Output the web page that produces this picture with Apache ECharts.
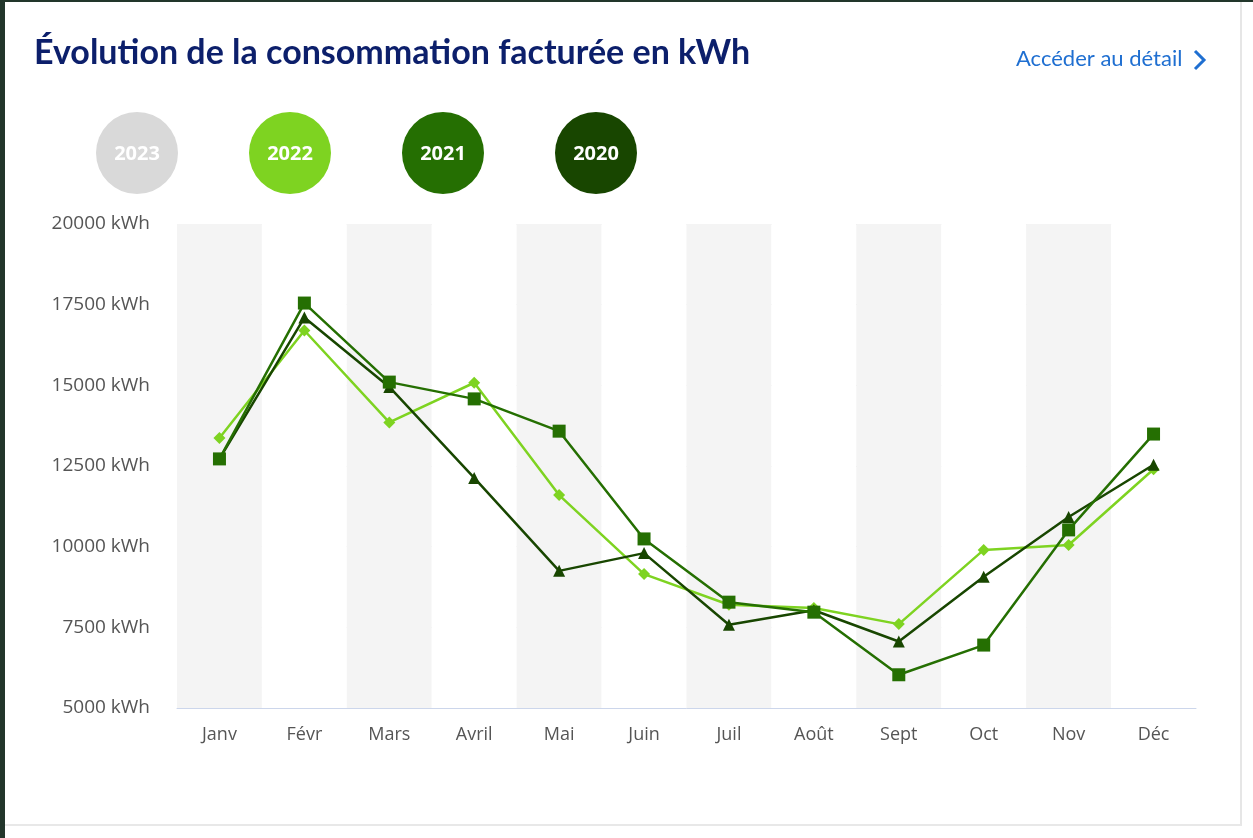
<!DOCTYPE html>
<html>
<head>
<meta charset="utf-8">
<script src="https://cdn.jsdelivr.net/npm/echarts@6/dist/echarts.min.js"></script>
<style>
  html, body { margin: 0; padding: 0; background: #fff; }
  #page { position: absolute; left: 0; top: 0; width: 1253px; height: 838px; background: #fff; }
  #strip { position: absolute; left: 0; top: 0; width: 5px; height: 838px; background: #22362b; }
  #topline { position: absolute; left: 0; top: 0; width: 1253px; height: 2px; background: #22362b; }
  #card { position: absolute; left: 5px; top: 2px; width: 1235px; height: 822px; background: #fff;
          border-right: 2px solid #e6e6e6; border-bottom: 2px solid #e8e8e8; }
  #chart { position: absolute; left: 0; top: 0; width: 1253px; height: 838px; }
</style>
</head>
<body>
<div id="page">
  <div id="card"></div>
  <div id="strip"></div>
  <div id="topline"></div>
  <div id="chart"></div>
</div>
<script>
const months = ['Janv', 'Févr', 'Mars', 'Avril', 'Mai', 'Juin', 'Juil', 'Août', 'Sept', 'Oct', 'Nov', 'Déc']
const years = ['2023', '2022', '2021', '2020']
const yearColors = ['#d9d9d9', '#7ed321', '#256f02', '#184600']

const conso2022 = [13370, 16700, 13850, 15080, 11600, 9150, 8200, 8100, 7600, 9900, 10050, 12400]
const conso2021 = [12720, 17550, 15100, 14580, 13580, 10240, 8280, 7970, 6030, 6950, 10520, 13490]
const conso2020 = [12720, 17100, 14950, 12130, 9250, 9800, 7580, 8030, 7060, 9070, 10920, 12540]

const chart = echarts.init(document.getElementById('chart'))

// pastilles des années
const legendItems = []
years.forEach((y, i) => {
  legendItems.push({
    type: 'circle',
    shape: { cx: 137 + i * 153, cy: 153, r: 41 },
    style: { fill: yearColors[i] }
  })
  legendItems.push({
    type: 'text',
    x: 137 + i * 153,
    y: 154,
    style: {
      text: y,
      fill: '#fff',
      font: 'bold 20px "Open Sans", sans-serif',
      textAlign: 'center',
      textVerticalAlign: 'middle'
    }
  })
})

const option = {
  animation: false,
  title: {
    text: 'Évolution de la consommation facturée en kWh',
    left: 29,
    top: 31,
    textStyle: {
      fontFamily: 'Lato',
      fontWeight: 'bold',
      fontSize: 34,
      color: '#0c1f6b'
    }
  },
  graphic: legendItems.concat([
    {
      type: 'text',
      x: 1016,
      y: 59,
      style: {
        text: 'Accéder au détail',
        fill: '#1f6fd1',
        font: '22px Lato',
        textVerticalAlign: 'middle'
      }
    },
    {
      type: 'polyline',
      shape: { points: [[1195, 51], [1204, 60], [1195, 69]] },
      style: { stroke: '#1f6fd1', lineWidth: 3, fill: null }
    }
  ]),
  grid: {
    left: 177,
    right: 57,
    top: 224,
    bottom: 130
  },
  xAxis: {
    type: 'category',
    data: months,
    boundaryGap: true,
    axisLine: { lineStyle: { color: '#ccd6eb', width: 1 } },
    axisTick: { show: false },
    axisLabel: {
      color: '#555',
      fontFamily: 'Open Sans',
      fontSize: 18,
      margin: 18
    },
    splitArea: {
      show: true,
      areaStyle: { color: ['#f4f4f4', '#ffffff'] }
    }
  },
  yAxis: {
    type: 'value',
    min: 5000,
    max: 20000,
    interval: 2500,
    axisLine: { show: false },
    axisTick: { show: false },
    axisLabel: {
      color: '#555',
      fontFamily: 'Open Sans',
      fontSize: 19,
      margin: 27,
      formatter: function (v) {
        return v + ' kWh'
      }
    },
    splitLine: { lineStyle: { color: '#e6e6e6', width: 1 } }
  },
  series: [
    {
      name: '2022',
      type: 'line',
      data: conso2022,
      symbol: 'diamond',
      symbolSize: 12,
      showAllSymbol: true,
      itemStyle: { color: yearColors[1] },
      lineStyle: { color: yearColors[1], width: 2.5 },
      z: 2
    },
    {
      name: '2020',
      type: 'line',
      data: conso2020,
      symbol: 'triangle',
      symbolSize: 12,
      showAllSymbol: true,
      itemStyle: { color: yearColors[3] },
      lineStyle: { color: yearColors[3], width: 2.5 },
      z: 3
    },
    {
      name: '2021',
      type: 'line',
      data: conso2021,
      symbol: 'rect',
      symbolSize: 13,
      showAllSymbol: true,
      itemStyle: { color: yearColors[2] },
      lineStyle: { color: yearColors[2], width: 2.5 },
      z: 4
    }
  ]
}

chart.setOption(option)
window.addEventListener('resize', () => {
  chart.resize()
})
</script>
</body>
</html>
